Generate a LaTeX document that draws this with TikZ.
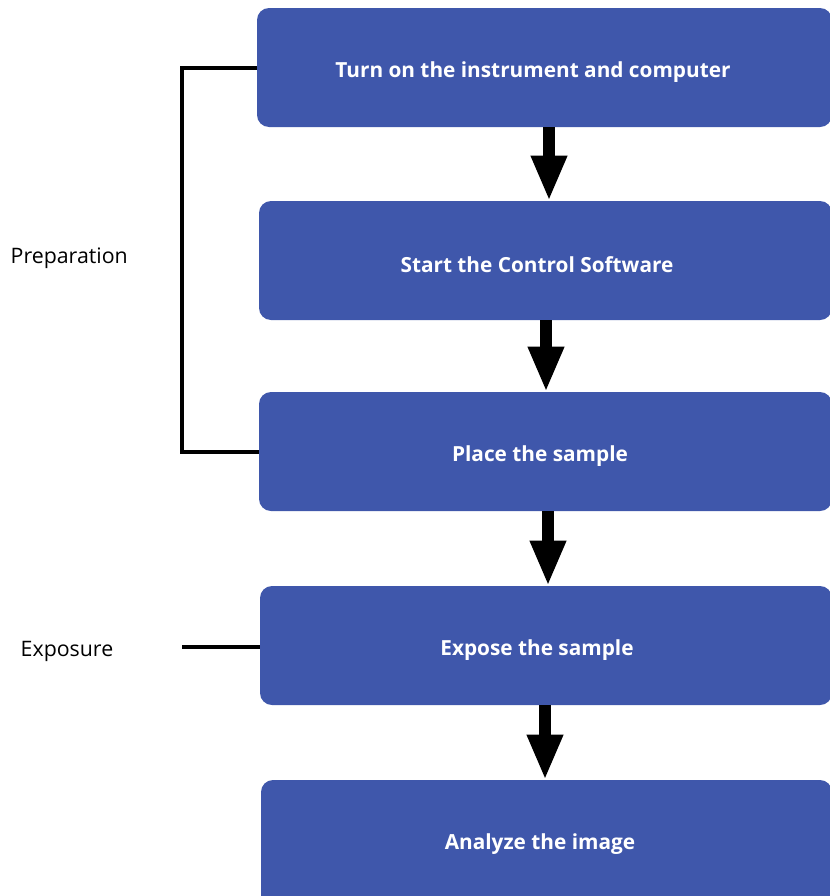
\documentclass[tikz,border=0pt]{standalone}
\usepackage{fontspec}
\setmainfont{Open Sans}
\usetikzlibrary{arrows.meta}
\definecolor{boxblue}{RGB}{63,87,171}
\tikzset{
  boxtext/.style={text=white, font=\bfseries\fontsize{15.6}{18}\selectfont},
  sidelabel/.style={font=\fontsize{16}{18}\selectfont, anchor=west},
  conn/.style={line width=2.6},
  bigarrow/.style={line width=9, -{Triangle[width=25,length=34]}}
}
\begin{document}
\begin{tikzpicture}[x=0.75pt,y=-0.75pt]
\useasboundingbox (0,0) rectangle (830,896);
% boxes
\fill[boxblue, rounded corners=9] (257,8) rectangle (832,127);
\node[boxtext] (b1) at (533,72) {Turn on the instrument and computer};
\fill[boxblue, rounded corners=9] (259,201) rectangle (832,320);
\node[boxtext] (b2) at (537,265) {Start the Control Software};
\fill[boxblue, rounded corners=9] (259,392) rectangle (832,511);
\node[boxtext] (b3) at (540,456) {Place the sample};
\fill[boxblue, rounded corners=9] (260,586) rectangle (832,705);
\node[boxtext] (b4) at (537,650) {Expose the sample};
\fill[boxblue, rounded corners=9] (261,780) rectangle (832,910);
\node[boxtext] (b5) at (540,844) {Analyze the image};
% arrows
\coordinate (a1s) at (549,127); \coordinate (a1e) at (549,201);
\coordinate (a2s) at (546,320); \coordinate (a2e) at (546,392);
\coordinate (a3s) at (548,511); \coordinate (a3e) at (548,586);
\coordinate (a4s) at (545,705); \coordinate (a4e) at (545,780);
\draw[bigarrow] (a1s) -- (a1e);
\draw[bigarrow] (a2s) -- (a2e);
\draw[bigarrow] (a3s) -- (a3e);
\draw[bigarrow] (a4s) -- (a4e);
% bracket
\coordinate (p1) at (257,68);
\coordinate (p2) at (259,452);
\draw[conn] (p1) -- (182,68) -- (182,452) -- (p2);
\node[sidelabel] (prep) at (6,258) {Preparation};
\coordinate (e1) at (182,647);
\coordinate (e2) at (260,647);
\draw[conn] (e1) -- (e2);
\node[sidelabel] (expo) at (16,651) {Exposure};
\end{tikzpicture}
\end{document}
